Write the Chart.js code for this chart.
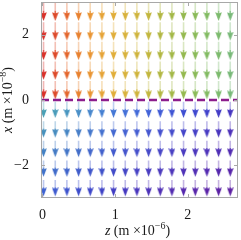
<!DOCTYPE html>
<html><head><meta charset="utf-8">
<script src="https://cdn.jsdelivr.net/npm/chart.js@4"></script>
<style>html,body{margin:0;padding:0;background:#fff}#w{width:241px;height:240px}</style>
</head><body><div id="w"><canvas id="c" width="241" height="240"></canvas></div>
<script>
// grid of arrow positions (z in 1e-6 m, x in 1e-8 m)
const zCols = [0.015,0.176,0.336,0.497,0.657,0.818,0.978,1.139,1.299,1.46,1.62,1.781,1.941,2.102,2.262,2.423,2.583];
const xRows = [2.7,2.1,1.5,0.9,0.3,-0.3,-0.9,-1.5,-2.1,-2.7];
// arrow x-component (downward), per row
const arrowX = [-0.56,-0.56,-0.56,-0.56,-0.56,-0.5,-0.5,-0.5,-0.5,-0.5];
const xTicks = [0,1,2];
const yTicks = [-2,0,2];
const zeroLine = [0,0];

const topColors = ['#d8312a','#dd4a2a','#e4662c','#e8812f','#e99533','#e6a437','#e1ae3a','#d8b23c','#cfb43c','#c2b63e','#b2b742','#a3b847','#95b94f','#8aba58','#82bb62','#7cba6d','#78b978'];
const botNear = ['#4aa0b5','#4a9cba','#4996c0','#4a8fc7','#4887cc','#4680d2','#4578d6','#4470d8','#436ad8','#4263d8','#405bd6','#3f55d4','#3f4fd2','#3f48cf','#4142cb','#433cc6','#4636c0'];
const botFar = ['#3e62d0','#3d5acf','#3c53cd','#3c4ccb','#3d46c9','#3e42c6','#413dc3','#4438c0','#4835bd','#4c32b9','#5030b5','#532cb1','#5629ae','#5826ab','#5a23a8','#5b21a5','#5c1fa2'];

function hex2rgb(h){return [parseInt(h.slice(1,3),16),parseInt(h.slice(3,5),16),parseInt(h.slice(5,7),16)];}
function mix(a,b,t){const A=hex2rgb(a),B=hex2rgb(b);return A.map((v,i)=>Math.round(v+(B[i]-v)*t));}
function colorFor(r,c){
  if (xRows[r] > 0) return hex2rgb(topColors[c]);
  const k = r - 5; return mix(botNear[c], botFar[c], k/4);
}
const headCache = {};
function headCanvas(rgb){
  const key = rgb.join(',');
  if (headCache[key]) return headCache[key];
  const cv = document.createElement('canvas'); cv.width = 7; cv.height = 18;
  const g = cv.getContext('2d');
  g.fillStyle = 'rgb('+key+')';
  g.beginPath(); g.moveTo(0.2,0.3); g.lineTo(3.5,1.6); g.lineTo(6.8,0.3); g.lineTo(3.5,9); g.closePath(); g.fill();
  headCache[key] = cv; return cv;
}

const heads = [], headCols = [], shafts = [], shaftCols = [];
for (let r=0;r<xRows.length;r++){
  for (let c=0;c<zCols.length;c++){
    const z = zCols[c], len = arrowX[r];
    const tail = xRows[r] - len/2, tip = xRows[r] + len/2;
    const col = colorFor(r,c);
    heads.push({x:z, y:tip}); headCols.push(col);
    const mid = (tail + tip)/2 + 0.03;
    shafts.push({x:z,y:tail},{x:z,y:mid},{x:z,y:tip+0.16},{x:z,y:null});
    shaftCols.push(col);
  }
}

const frame = {
  id:'frame',
  afterDatasetsDraw(chart){
    const {ctx, chartArea:a, scales} = chart;
    ctx.save();
    ctx.strokeStyle = '#a8a8a8'; ctx.lineWidth = 1;
    ctx.strokeRect(a.left+0.5, a.top+0.5, a.right-a.left-1, a.bottom-a.top-1);
    ctx.beginPath();
    xTicks.forEach(v=>{const p=Math.round(scales.x.getPixelForValue(v))+0.5; ctx.moveTo(p,a.bottom); ctx.lineTo(p,a.bottom-4); ctx.moveTo(p,a.top); ctx.lineTo(p,a.top+4);});
    yTicks.forEach(v=>{const p=Math.round(scales.y.getPixelForValue(v))+0.5; ctx.moveTo(a.left,p); ctx.lineTo(a.left+4,p); ctx.moveTo(a.right,p); ctx.lineTo(a.right-4,p);});
    ctx.stroke();
    ctx.restore();
  },
  afterDraw(chart){
    const {ctx, chartArea:a} = chart;
    const F = '"Liberation Serif", "DejaVu Serif", serif';
    function label(v, exp){
      const parts = [
        {t:v, f:'italic 14px '+F, dy:0},
        {t:' (m \u00d710', f:'14px '+F, dy:0},
        {t:exp, f:'10px '+F, dy:-6},
        {t:')', f:'14px '+F, dy:0}
      ];
      let w = 0; parts.forEach(p=>{ctx.font=p.f; p.w=ctx.measureText(p.t).width; w+=p.w;});
      let x = -w/2;
      ctx.fillStyle = '#1a1a1a'; ctx.textBaseline = 'alphabetic'; ctx.textAlign = 'left';
      parts.forEach(p=>{ctx.font=p.f; ctx.fillText(p.t, x, p.dy); x+=p.w;});
    }
    ctx.save();
    ctx.translate((a.left+a.right)/2 - 2, 235);
    label('z','\u22126');
    ctx.restore();
    ctx.save();
    ctx.translate(12, (a.top+a.bottom)/2);
    ctx.rotate(-Math.PI/2);
    label('x','\u22128');
    ctx.restore();
  }
};

const noPad = () => ({left:0, top:0, right:0, bottom:0});
const tickFont = {family:'"Liberation Serif", "DejaVu Serif", serif', size:14};
new Chart(document.getElementById('c'), {
  type:'scatter',
  data:{datasets:[
    {type:'line', data:[{x:-0.02,y:zeroLine[0]},{x:2.69,y:zeroLine[1]}], borderColor:'#8c1d8c', borderWidth:2.5, borderDash:[8,4], pointRadius:0, order:0},
    {type:'scatter', data:heads, pointStyle:(ctx)=>headCanvas(headCols[ctx.dataIndex]||[0,0,0]), pointRadius:4, order:1},
    {type:'line', data:shafts, pointRadius:0, borderWidth:1.6, spanGaps:false, order:2,
      segment:{borderColor:(ctx)=>{const k=Math.floor(ctx.p0DataIndex/4), s=ctx.p0DataIndex%4, c=shaftCols[k]; return 'rgba('+c.join(',')+','+(s===0?0.35:0.8)+')';}}}
  ]},
  options:{
    responsive:false, animation:false, events:[],
    layout:{autoPadding:false, padding:{left:0,right:3,top:2,bottom:0}},
    plugins:{legend:{display:false}, tooltip:{enabled:false}},
    scales:{
      x:{type:'linear', min:-0.02, max:2.69,
        afterBuildTicks:s=>{s.ticks = xTicks.map(v=>({value:v}));},
        afterFit:s=>{s.height=42; s.paddingLeft=0; s.paddingRight=0; s.getPadding=noPad;},
        grid:{display:false}, border:{display:false},
        ticks:{font:tickFont, color:'#1a1a1a', padding:1, maxRotation:0}},
      y:{type:'linear', min:-3, max:3,
        afterBuildTicks:s=>{s.ticks = yTicks.map(v=>({value:v}));},
        afterFit:s=>{s.width=41; s.paddingTop=0; s.paddingBottom=0; s.getPadding=noPad;},
        grid:{display:false}, border:{display:false},
        ticks:{font:tickFont, color:'#1a1a1a', padding:4, callback:v=>v<0?'\u2212'+Math.abs(v):String(v)}}
    }
  },
  plugins:[frame]
});
</script>
</body></html>
